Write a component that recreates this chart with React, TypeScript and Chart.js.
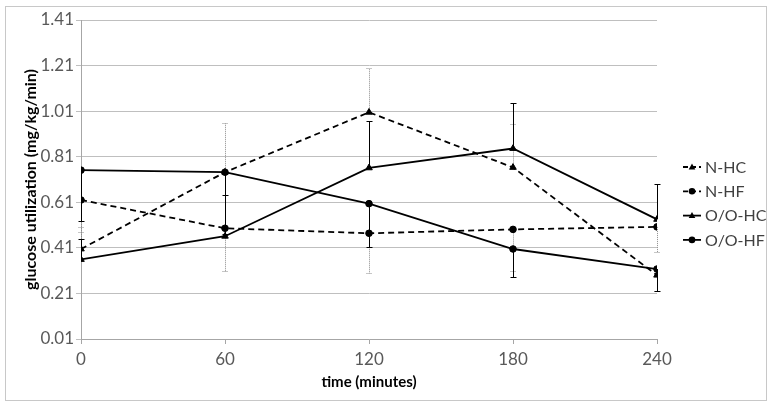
import React, { useEffect, useRef } from "react";
import { Chart, registerables } from "chart.js";

Chart.register(...registerables);

const timePoints = [0, 60, 120, 180, 240];
const xTicks = [0, 60, 120, 180, 240];
const yTicks = [0.01, 0.21, 0.41, 0.61, 0.81, 1.01, 1.21, 1.41];
const yTickLabels = ["0.01", "0.21", "0.41", "0.61", "0.81", "1.01", "1.21", "1.41"];

const seriesNames = ["N-HC", "N-HF", "O/O-HC", "O/O-HF"];
const nHC = [0.405, 0.742, 1.005, 0.763, 0.29];
const nHF = [0.62, 0.496, 0.474, 0.491, 0.502];
const ooHC = [0.359, 0.461, 0.761, 0.846, 0.535];
const ooHF = [0.751, 0.742, 0.604, 0.405, 0.317];

// end value of each (one-sided) error bar
const nHCErrEnd = [0.5, 0.96, 1.2, 0.955, 0.22];
const nHFErrEnd = [0.48, 0.31, 0.3, 0.31, 0.39];
const ooHCErrEnd = [0.45, 0.64, 0.965, 1.045, 0.69];
const ooHFErrEnd = [0.53, 0.47, 0.415, 0.28, 0.22];

const seriesValues = [nHC, nHF, ooHC, ooHF];
const seriesErrEnds = [nHCErrEnd, nHFErrEnd, ooHCErrEnd, ooHFErrEnd];
const seriesDashed = [true, true, false, false];
const seriesMarker = ["triangle", "circle", "triangle", "circle"];

const FONT = "Lato, 'Open Sans', 'DejaVu Sans', sans-serif";

function drawMarker(ctx: CanvasRenderingContext2D, style: string, x: number, y: number, r: number) {
  ctx.beginPath();
  if (style === "circle") {
    ctx.arc(x, y, r, 0, Math.PI * 2);
  } else {
    const h = r * 1.8;
    ctx.moveTo(x, y - h * 0.6);
    ctx.lineTo(x + r, y + h * 0.4);
    ctx.lineTo(x - r, y + h * 0.4);
    ctx.closePath();
  }
  ctx.fill();
}

const backgroundPlugin = {
  id: "bgBorder",
  beforeDraw(chart: any) {
    const ctx = chart.ctx;
    ctx.save();
    ctx.fillStyle = "#ffffff";
    ctx.fillRect(0, 0, chart.width, chart.height);
    ctx.strokeStyle = "#C8C8C8";
    ctx.lineWidth = 1;
    ctx.strokeRect(5.5, 6.5, 761, 394);
    ctx.restore();
  },
};

const errorBarPlugin = {
  id: "errorBars",
  beforeDatasetsDraw(chart: any) {
    const ctx = chart.ctx;
    const xs = chart.scales.x;
    const ys = chart.scales.y;
    ctx.save();
    seriesValues.forEach((vals, si) => {
      const ends = seriesErrEnds[si];
      const dashed = seriesDashed[si];
      ctx.strokeStyle = dashed ? "#8C8C8C" : "#000000";
      ctx.lineWidth = 1;
      ctx.setLineDash(dashed ? [1, 1] : []);
      vals.forEach((v, i) => {
        const x = Math.round(xs.getPixelForValue(timePoints[i])) + 0.5;
        const y0 = ys.getPixelForValue(v);
        const y1 = Math.round(ys.getPixelForValue(ends[i])) + 0.5;
        ctx.beginPath();
        ctx.moveTo(x, y0);
        ctx.lineTo(x, y1);
        ctx.stroke();
        ctx.beginPath();
        ctx.moveTo(x - 3, y1);
        ctx.lineTo(x + 3, y1);
        ctx.stroke();
      });
    });
    ctx.restore();
  },
};

const legendPlugin = {
  id: "sideLegend",
  afterDraw(chart: any) {
    const ctx = chart.ctx;
    ctx.save();
    const startY = 167;
    const gap = 24.3;
    seriesNames.forEach((name, i) => {
      const y = startY + i * gap;
      ctx.strokeStyle = "#000";
      ctx.fillStyle = "#000";
      ctx.lineWidth = 1.8;
      ctx.setLineDash(seriesDashed[i] ? [5, 3] : []);
      ctx.beginPath();
      ctx.moveTo(683, y);
      ctx.lineTo(701, y);
      ctx.stroke();
      ctx.setLineDash([]);
      drawMarker(ctx, seriesMarker[i], 692, y, 3.3);
      ctx.fillStyle = "#404040";
      ctx.font = `16px ${FONT}`;
      ctx.textBaseline = "middle";
      ctx.textAlign = "left";
      ctx.fillText(name, 705, y + 0.5);
    });
    ctx.restore();
  },
};

export default function App() {
  const canvasRef = useRef<HTMLCanvasElement | null>(null);

  useEffect(() => {
    if (!canvasRef.current) return;
    const datasets = seriesValues.map((vals, si) => ({
      label: seriesNames[si],
      data: timePoints.map((t, i) => ({ x: t, y: vals[i] })),
      borderColor: "#000000",
      backgroundColor: "#000000",
      borderWidth: 1.8,
      borderDash: seriesDashed[si] ? [6, 4] : [],
      pointStyle: seriesMarker[si] as any,
      pointRadius: seriesMarker[si] === "circle" ? 3.3 : 3.8,
      pointBackgroundColor: "#000000",
      pointBorderColor: "#000000",
      pointBorderWidth: 1,
      tension: 0,
      fill: false,
    }));

    const chart = new Chart(canvasRef.current, {
      type: "line",
      data: { datasets },
      options: {
        responsive: false,
        animation: false,
        devicePixelRatio: 1,
        layout: { padding: { left: 0, right: 118, top: 20, bottom: 0 } },
        plugins: {
          legend: { display: false },
          tooltip: { enabled: false },
        },
        scales: {
          x: {
            type: "linear",
            min: 0,
            max: 240,
            afterBuildTicks: (s: any) => {
              s.ticks = xTicks.map((v) => ({ value: v }));
            },
            afterFit: (s: any) => {
              s.height = 70;
            },
            grid: {
              drawOnChartArea: false,
              drawTicks: true,
              tickLength: 5,
              color: "#A6A6A6",
            },
            border: { color: "#A6A6A6" },
            ticks: {
              color: "#595959",
              font: { family: FONT, size: 17 },
              padding: 5,
              maxRotation: 0,
              callback: (v: any) => String(v),
            },
            title: {
              display: true,
              text: "time (minutes)",
              color: "#000000",
              font: { family: FONT, size: 15, weight: "bold" },
              padding: { top: 0, bottom: 18 },
            },
          },
          y: {
            type: "linear",
            min: 0.01,
            max: 1.41,
            afterBuildTicks: (s: any) => {
              s.ticks = yTicks.map((v) => ({ value: v }));
            },
            afterFit: (s: any) => {
              s.width = 81;
            },
            grid: {
              color: "#BFBFBF",
              tickLength: 5,
            },
            border: { color: "#A6A6A6" },
            ticks: {
              color: "#595959",
              font: { family: FONT, size: 17 },
              padding: 2,
              callback: (_v: any, idx: number) => yTickLabels[idx],
            },
            title: {
              display: true,
              text: "glucose utilization (mg/kg/min)",
              color: "#000000",
              font: { family: FONT, size: 16, weight: "bold" },
              padding: { top: 21, bottom: 0 },
            },
          },
        },
      },
      plugins: [backgroundPlugin, errorBarPlugin, legendPlugin],
    });
    return () => chart.destroy();
  }, []);

  return (
    <div style={{ position: "absolute", left: 0, top: 0, width: 775, height: 409 }}>
      <canvas ref={canvasRef} width={775} height={409} style={{ width: 775, height: 409, display: "block" }} />
    </div>
  );
}
